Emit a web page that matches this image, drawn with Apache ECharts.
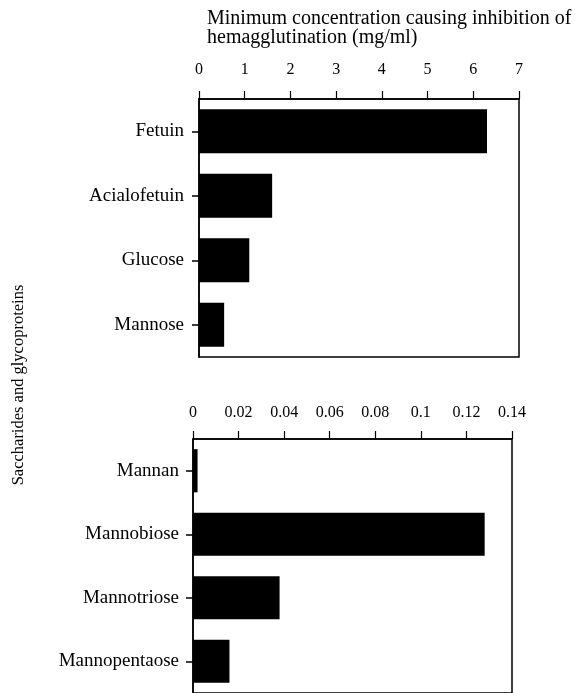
<!DOCTYPE html>
<html>
<head>
<meta charset="utf-8">
<script src="https://cdn.jsdelivr.net/npm/echarts@6/dist/echarts.min.js"></script>
<style>
  html, body { margin: 0; padding: 0; background: #fff; }
  #chart { width: 575px; height: 693px; }
</style>
</head>
<body>
<div id="chart"></div>
<script>
// Upper panel: glycoproteins and simple sugars (mg/ml)
const topCategories = ['Fetuin', 'Acialofetuin', 'Glucose', 'Mannose'];
const topValues = [6.3, 1.6, 1.1, 0.55];

// Lower panel: mannose oligomers (mg/ml)
const bottomCategories = ['Mannan', 'Mannobiose', 'Mannotriose', 'Mannopentaose'];
const bottomValues = [0.002, 0.128, 0.038, 0.016];

const axisTitle = ['Minimum concentration causing inhibition of', 'hemagglutination (mg/ml)'];
const sideTitle = 'Saccharides and glycoproteins';

const FONT = 'Liberation Serif';
const INK = '#000';

const chart = echarts.init(document.getElementById('chart'), null, { renderer: 'canvas' });

function valueAxis(gridIndex, max, interval, margin, fmt) {
  return {
    type: 'value',
    gridIndex: gridIndex,
    position: 'top',
    min: 0,
    max: max,
    interval: interval,
    axisLine: { show: true, lineStyle: { color: INK, width: 1.5 } },
    axisTick: { show: true, inside: false, length: 8, lineStyle: { color: INK, width: 1.2 } },
    axisLabel: { color: INK, fontFamily: FONT, fontSize: 16, margin: margin, formatter: fmt },
    splitLine: { show: false }
  };
}

function categoryAxis(gridIndex, cats, margin) {
  return {
    type: 'category',
    gridIndex: gridIndex,
    data: cats,
    inverse: true,
    axisLine: { show: true, lineStyle: { color: INK, width: 1.5 } },
    axisTick: { show: true, alignWithLabel: true, length: 7, lineStyle: { color: INK, width: 1.5 } },
    axisLabel: { color: INK, fontFamily: FONT, fontSize: 19, margin: margin }
  };
}

chart.setOption({
  animation: false,
  backgroundColor: '#fff',
  textStyle: { fontFamily: FONT },
  title: {
    text: axisTitle.join('\n'),
    left: 202,
    top: 4,
    textStyle: { fontFamily: FONT, fontSize: 20, fontWeight: 'normal', color: INK, lineHeight: 19 }
  },
  graphic: [{
    type: 'text',
    x: 19, y: 385,
    rotation: Math.PI / 2,
    style: { text: sideTitle, fontFamily: FONT, fontSize: 16.5, fill: INK, align: 'center', verticalAlign: 'middle' }
  }],
  grid: [
    { left: 199, right: 56, top: 99, height: 258, show: true, borderColor: INK, borderWidth: 1.5, containLabel: false },
    { left: 193, right: 63, top: 439, height: 257, show: true, borderColor: INK, borderWidth: 1.5, containLabel: false }
  ],
  xAxis: [
    valueAxis(0, 7, 1, 21, v => String(v)),
    valueAxis(1, 0.14, 0.02, 18, v => String(+v.toFixed(2)))
  ],
  yAxis: [
    categoryAxis(0, topCategories, 15),
    categoryAxis(1, bottomCategories, 14)
  ],
  series: [
    {
      type: 'bar', xAxisIndex: 0, yAxisIndex: 0, data: topValues,
      barWidth: '68%', itemStyle: { color: INK }
    },
    {
      type: 'bar', xAxisIndex: 1, yAxisIndex: 1, data: bottomValues,
      barWidth: '68%', itemStyle: { color: INK }
    }
  ]
});
</script>
</body>
</html>
